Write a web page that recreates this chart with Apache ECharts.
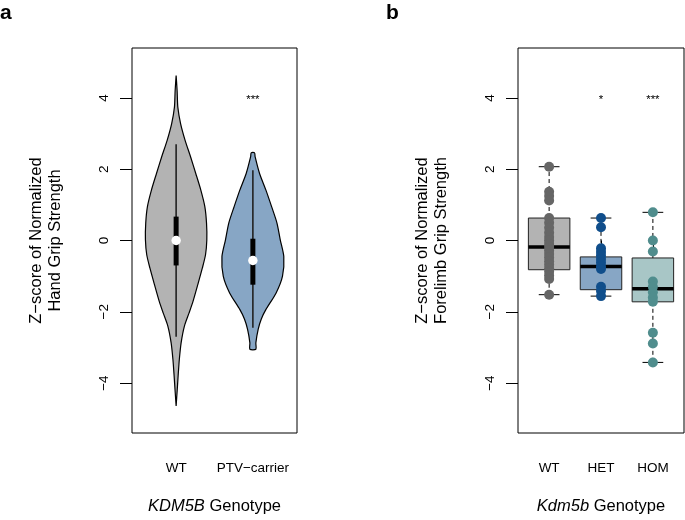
<!DOCTYPE html>
<html><head><meta charset="utf-8">
<script src="https://cdn.jsdelivr.net/npm/echarts@6/dist/echarts.min.js"></script>
<style>html,body{margin:0;padding:0;background:#fff}#c{width:685px;height:520px}</style>
</head><body><div id="c"></div>
<script>
// ---------- data (panel a: violins) ----------
const violinCategories = ['WT', 'PTV\u2212carrier'];
const wtViolinY    = [-4.64, -4.2, -3.8, -3.33, -2.87, -2.4, -2.03, -1.70, -1.24, -0.77, -0.4, 0.02, 0.49, 0.95, 1.42, 1.88, 2.35, 2.81, 3.28, 3.74, 4.2, 4.63];
const wtViolinHalf = [0, 0.014, 0.026, 0.042, 0.065, 0.108, 0.169, 0.221, 0.282, 0.342, 0.383, 0.400, 0.396, 0.374, 0.321, 0.256, 0.188, 0.117, 0.058, 0.022, 0.013, 0];
const ptvViolinY    = [-3.05, -2.87, -2.49, -2.2, -1.94, -1.47, -1.0, -0.45, 0.02, 0.49, 0.95, 1.42, 1.88, 2.35, 2.46];
const ptvViolinHalf = [0.039, 0.039, 0.069, 0.110, 0.169, 0.303, 0.386, 0.403, 0.357, 0.314, 0.244, 0.169, 0.087, 0.029, 0.022];
// [lower whisker, Q1, median, Q3, upper whisker]
const wtViolinStats  = [-2.70, -0.70, 0.00, 0.67, 2.70];
const ptvViolinStats = [-2.45, -1.24, -0.56, 0.05, 1.97];
const sigA = ['', '***'];

// ---------- data (panel b: boxplots + points) ----------
const boxCategories = ['WT', 'HET', 'HOM'];
const wtBoxStats  = [-1.52, -0.82, -0.18, 0.63, 2.07];
const hetBoxStats = [-1.56, -1.38, -0.73, -0.46, 0.63];
const homBoxStats = [-3.42, -1.72, -1.35, -0.49, 0.79];
const wtPoints  = [2.07, 1.37, 1.25, 1.12, 0.63, 0.5, 0.36, 0.22, 0.1, 0.0, -0.1, -0.18, -0.28, -0.38, -0.48, -0.58, -0.68, -0.78, -0.88, -0.98, -1.08, -1.52];
const hetPoints = [0.63, 0.37, -0.22, -0.32, -0.42, -0.52, -0.62, -0.73, -0.8, -1.3, -1.42, -1.56];
const homPoints = [0.79, 0.0, -0.31, -1.15, -1.3, -1.45, -1.6, -1.72, -2.59, -2.89, -3.42];
const sigB = ['', '*', '***'];

const yTicks = [-4, -2, 0, 2, 4];
const sigY = 4;

// ---------- rendering ----------
const FONT = '"Liberation Sans", Arial, Helvetica, sans-serif';
const violinY = [wtViolinY, ptvViolinY];
const violinHalf = [wtViolinHalf, ptvViolinHalf];
const violinStats = [wtViolinStats, ptvViolinStats];
const violinFill = ['#B3B3B3', '#87A6C5'];
const boxStats = [wtBoxStats, hetBoxStats, homBoxStats];
const boxFill = ['#B3B3B3', '#87A6C5', '#A8C6C6'];
const pointColor = ['#666666', '#104E8B', '#508D8D'];
const groupPoints = [wtPoints, hetPoints, homPoints];

const minus = v => (v < 0 ? '\u2212' + Math.abs(v) : String(v));

function violinItem(params, api) {
  const i = params.dataIndex;
  const x = api.value(0);
  const ys = violinY[i], hs = violinHalf[i], st = violinStats[i];
  const right = ys.map((y, k) => api.coord([x + hs[k], y]));
  const left = ys.map((y, k) => api.coord([x - hs[k], y])).reverse();
  const pts = right.concat(left);
  const lo = api.coord([x, st[0]]), q1 = api.coord([x, st[1]]), md = api.coord([x, st[2]]),
        q3 = api.coord([x, st[3]]), hi = api.coord([x, st[4]]);
  const bw = 5;
  return { type: 'group', children: [
    { type: 'polygon', shape: { points: pts, smooth: 0.25 }, style: { fill: violinFill[i], stroke: '#000', lineWidth: 1.2 } },
    { type: 'line', shape: { x1: lo[0], y1: lo[1], x2: hi[0], y2: hi[1] }, style: { stroke: '#222', lineWidth: 1.6 } },
    { type: 'rect', shape: { x: q3[0] - bw / 2, y: q3[1], width: bw, height: q1[1] - q3[1] }, style: { fill: '#000' } },
    { type: 'circle', shape: { cx: md[0], cy: md[1], r: 4.7 }, style: { fill: '#fff' } }
  ]};
}

function boxItem(params, api) {
  const i = params.dataIndex;
  const x = api.value(0);
  const lo = api.value(1), q1 = api.value(2), md = api.value(3), q3 = api.value(4), hi = api.value(5);
  const tl = api.coord([x - 0.4, q3]), br = api.coord([x + 0.4, q1]);
  const mL = api.coord([x - 0.4, md]), mR = api.coord([x + 0.4, md]);
  const c = api.coord([x, 0])[0];
  const yLo = api.coord([x, lo])[1], yHi = api.coord([x, hi])[1];
  const capL = api.coord([x - 0.2, 0])[0], capR = api.coord([x + 0.2, 0])[0];
  return { type: 'group', children: [
    { type: 'line', shape: { x1: c, y1: tl[1], x2: c, y2: yHi }, style: { stroke: '#000', lineWidth: 1, lineDash: [4, 3] } },
    { type: 'line', shape: { x1: c, y1: br[1], x2: c, y2: yLo }, style: { stroke: '#000', lineWidth: 1, lineDash: [4, 3] } },
    { type: 'line', shape: { x1: capL, y1: yHi, x2: capR, y2: yHi }, style: { stroke: '#000', lineWidth: 1 } },
    { type: 'line', shape: { x1: capL, y1: yLo, x2: capR, y2: yLo }, style: { stroke: '#000', lineWidth: 1 } },
    { type: 'rect', shape: { x: tl[0], y: tl[1], width: br[0] - tl[0], height: br[1] - tl[1] }, style: { fill: boxFill[i], stroke: '#222', lineWidth: 1 } },
    { type: 'line', shape: { x1: mL[0], y1: mL[1], x2: mR[0], y2: mR[1] }, style: { stroke: '#000', lineWidth: 3.5 } }
  ]};
}

function sigItem(labels) {
  return function (params, api) {
    const p = api.coord([api.value(0), api.value(1)]);
    return { type: 'text', x: p[0], y: p[1] + 1.5,
      style: { text: labels[params.dataIndex], fill: '#000', font: '11.5px ' + FONT, align: 'center', verticalAlign: 'middle' } };
  };
}

function xAxisDef(gridIndex, cats, min, max) {
  const vals = cats.map((c, i) => i + 1);
  return {
    type: 'value', gridIndex, min, max,
    axisLine: { show: false },
    splitLine: { show: false },
    axisTick: { show: true, customValues: vals, length: 12, lineStyle: { color: '#000', width: 1 } },
    axisLabel: { show: true, customValues: vals, margin: 28, fontSize: 13.5, color: '#000', fontFamily: FONT,
      formatter: v => cats[Math.round(v) - 1] || '' }
  };
}
function yAxisDef(gridIndex, name) {
  return {
    type: 'value', gridIndex, min: -5.4, max: 5.4,
    axisLine: { show: false },
    splitLine: { show: false },
    axisTick: { show: true, customValues: yTicks, length: 12, lineStyle: { color: '#000', width: 1 } },
    axisLabel: { show: true, customValues: yTicks, rotate: 90, margin: 21, fontSize: 13.5, color: '#000', fontFamily: FONT,
      formatter: v => minus(v) },
    name, nameLocation: 'middle', nameGap: 67, nameRotate: 90,
    nameTextStyle: { fontSize: 16.5, color: '#000', fontFamily: FONT, lineHeight: 19 }
  };
}

const chart = echarts.init(document.getElementById('c'), null, { renderer: 'canvas' });
const xa = xAxisDef(0, violinCategories, 0.425, 2.575);
xa.name = '{i|KDM5B} Genotype';
const xb = xAxisDef(1, boxCategories, 0.4, 3.6);
xb.name = '{i|Kdm5b} Genotype';
[xa, xb].forEach(a => {
  a.nameLocation = 'middle'; a.nameGap = 65;
  a.nameTextStyle = { fontSize: 16.5, color: '#000', fontFamily: FONT, rich: { i: { fontStyle: 'italic', fontSize: 16.5, fontFamily: FONT, color: '#000' } } };
});

const series = [
  { type: 'custom', xAxisIndex: 0, yAxisIndex: 0, renderItem: violinItem, clip: false,
    data: violinCategories.map((c, i) => [i + 1, violinStats[i][2]]), z: 2 },
  { type: 'custom', xAxisIndex: 0, yAxisIndex: 0, renderItem: sigItem(sigA), clip: false,
    data: violinCategories.map((c, i) => [i + 1, sigY]), z: 3 },
  { type: 'custom', xAxisIndex: 1, yAxisIndex: 1, renderItem: boxItem, clip: false,
    data: boxCategories.map((c, i) => [i + 1].concat(boxStats[i])), z: 2 },
  { type: 'custom', xAxisIndex: 1, yAxisIndex: 1, renderItem: sigItem(sigB), clip: false,
    data: boxCategories.map((c, i) => [i + 1, sigY]), z: 3 }
];
groupPoints.forEach((pts, i) => {
  series.push({ type: 'scatter', xAxisIndex: 1, yAxisIndex: 1, symbol: 'circle', symbolSize: 10,
    itemStyle: { color: pointColor[i], opacity: 1 }, data: pts.map(v => [i + 1, v]), z: 4, silent: true });
});

chart.setOption({
  animation: false,
  textStyle: { fontFamily: FONT },
  grid: [
    { left: 132, top: 48, width: 165, height: 386, show: true, borderColor: '#000', borderWidth: 1, backgroundColor: 'transparent' },
    { left: 518, top: 48, width: 166, height: 386, show: true, borderColor: '#000', borderWidth: 1, backgroundColor: 'transparent' }
  ],
  xAxis: [xa, xb],
  yAxis: [
    yAxisDef(0, 'Z\u2212score of Normalized\nHand Grip Strength'),
    yAxisDef(1, 'Z\u2212score of Normalized\nForelimb Grip Strength')
  ],
  graphic: [
    { type: 'text', left: 0, top: 3, style: { text: 'a', font: 'bold 21px ' + FONT, fill: '#000' } },
    { type: 'text', left: 386, top: 3, style: { text: 'b', font: 'bold 21px ' + FONT, fill: '#000' } }
  ],
  series
});
</script></body></html>
